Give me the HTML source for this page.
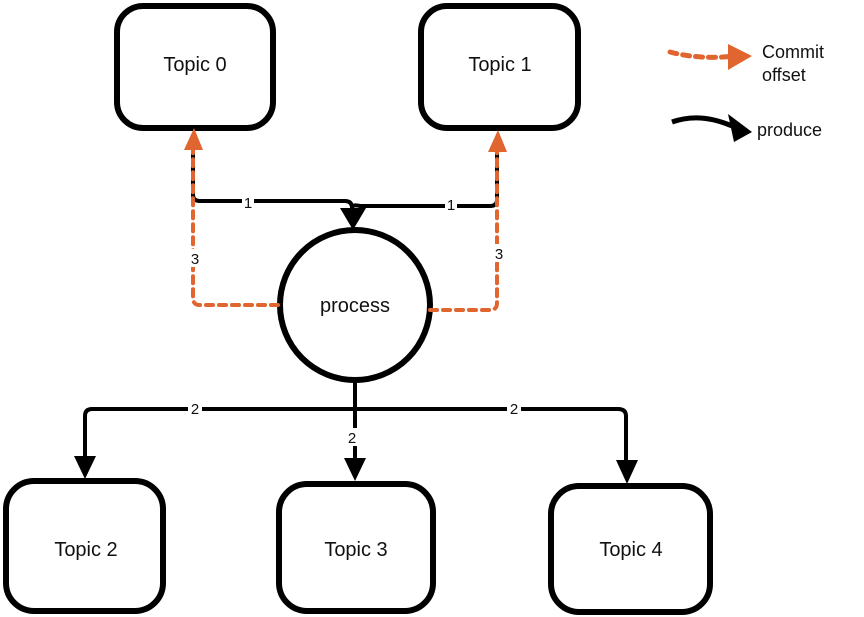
<!DOCTYPE html>
<html><head><meta charset="utf-8"><style>
html,body{margin:0;padding:0;background:#fff;}
svg{display:block;}
text{font-family:"Liberation Sans",sans-serif;fill:#111;}
</style></head><body>
<svg width="864" height="617" viewBox="0 0 864 617" xmlns="http://www.w3.org/2000/svg">
<g fill="none" stroke="#000" stroke-width="6" stroke-linejoin="round">
<rect x="117" y="6" width="156" height="122" rx="26"/>
<rect x="421" y="6" width="157" height="122" rx="26"/>
<circle cx="355" cy="305" r="75"/>
<rect x="6" y="481" width="157" height="130" rx="28"/>
<rect x="279" y="484" width="154" height="127" rx="28"/>
<rect x="551" y="486" width="159" height="126" rx="28"/>
</g>
<g fill="none" stroke="#000" stroke-width="4">
<path d="M193 150 V195 Q193 201 200 201 H345 Q352 201 352 208"/>
<path d="M497 150 V200 Q497 206 490 206 H360 Q352 204 352 208"/>
<path d="M355 380 V409"/>
<path d="M85 460 V416 Q85 409 92 409 H618 Q626 409 626 416 V462"/>
<path d="M355 409 V460"/>
<path d="M672 122 Q700 112 732 126" stroke-width="5"/>
</g>
<g fill="#000">
<polygon points="340,208 366,208 353,230"/>
<polygon points="74,456 96,456 85,479"/>
<polygon points="344,458 366,458 355,481"/>
<polygon points="616,460 638,460 627,484"/>
<polygon points="728,114 752,132 734,142"/>
</g>
<g fill="none" stroke="#e0652f" stroke-width="4" stroke-dasharray="7 6" stroke-linecap="round">
<path d="M278 305 H200 Q193 305 193 298 V150"/>
<path d="M430 310 H490 Q497 310 497 303 V150"/>
<path d="M670 52 Q700 60 735 56" stroke-width="5"/>
</g>
<g fill="#e0652f">
<polygon points="184,150 203,150 194,128"/>
<polygon points="488,152 507,152 498,130"/>
<polygon points="728,44 752,56 728,70"/>
</g>
<g fill="#fff">
<rect x="242" y="194" width="12" height="16"/>
<rect x="445" y="196" width="12" height="16"/>
<rect x="188" y="249" width="14" height="18"/>
<rect x="492" y="244" width="14" height="18"/>
<rect x="188" y="400" width="14" height="16"/>
<rect x="345" y="428" width="14" height="18"/>
<rect x="507" y="400" width="14" height="16"/>
</g>
<g font-size="15" text-anchor="middle">
<text x="248" y="208">1</text>
<text x="451" y="210">1</text>
<text x="195" y="264">3</text>
<text x="499" y="259">3</text>
<text x="195" y="414">2</text>
<text x="352" y="443">2</text>
<text x="514" y="414">2</text>
</g>
<g font-size="20" text-anchor="middle">
<text x="195" y="71">Topic 0</text>
<text x="500" y="71">Topic 1</text>
<text x="355" y="312">process</text>
<text x="86" y="556">Topic 2</text>
<text x="356" y="556">Topic 3</text>
<text x="631" y="556">Topic 4</text>
</g>
<g font-size="18">
<text x="762" y="58">Commit</text>
<text x="762" y="81">offset</text>
<text x="757" y="136">produce</text>
</g>
</svg>
</body></html>
